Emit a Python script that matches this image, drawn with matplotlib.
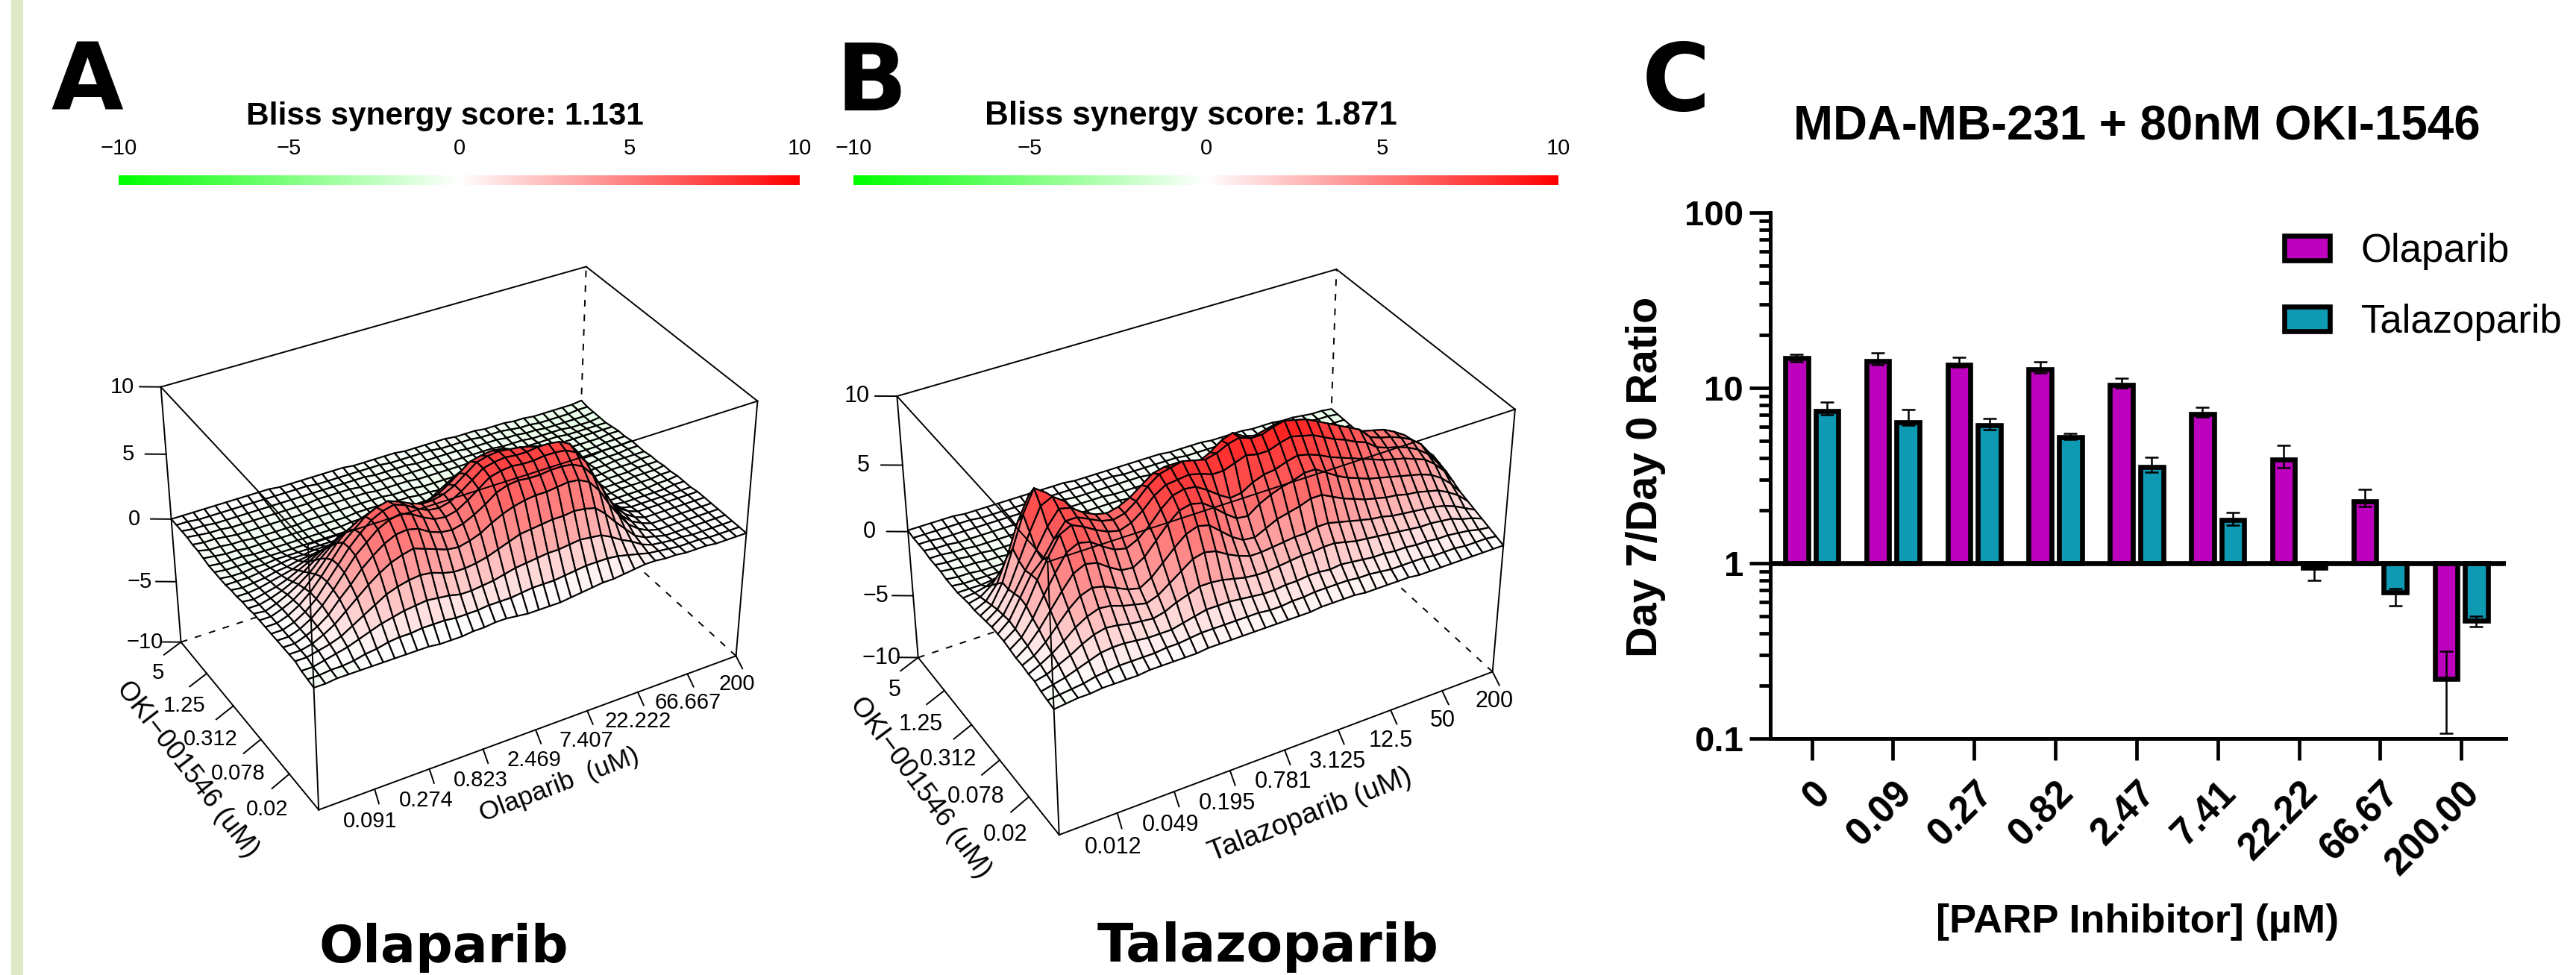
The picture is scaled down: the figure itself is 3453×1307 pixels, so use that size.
#!/usr/bin/env python
import matplotlib
matplotlib.use('Agg')
import matplotlib.pyplot as plt
from matplotlib.colors import LinearSegmentedColormap
from matplotlib.patches import Patch, Rectangle
from matplotlib.ticker import LogLocator, NullFormatter
from mpl_toolkits.mplot3d import Axes3D
import numpy as np

plt.rcParams['font.family'] = ['Liberation Sans', 'DejaVu Sans']

W, H = 3453, 1307

# panel A / B tick labels
oki_ticks = ['0.02', '0.078', '0.312', '1.25', '5']
ola_ticks = ['0.091', '0.274', '0.823', '2.469', '7.407', '22.222', '66.667', '200']
tal_ticks = ['0.012', '0.049', '0.195', '0.781', '3.125', '12.5', '50', '200']
z_ticks = [-10, -5, 0, 5, 10]

# synergy surface, tenths of a point
# rows go back along OKI-001546, columns along the PARP inhibitor
bliss_a_tenths = [
    [-4,-4,-3,-3,-3,-3,-3,-3,-3,-3,-3,-4,-4,-4,-3,-3,-2,-2,-3,-4,-4,-4,-4,-3,-2,-1,0,0,1,2,3,3,2,2,1,1,1,0,0,0,0],
    [-3,-3,-2,-2,-1,1,2,4,5,5,6,6,6,5,5,5,6,6,6,7,8,8,8,9,10,11,11,11,10,8,6,4,3,2,1,1,1,0,0,0,0],
    [-2,-2,0,2,4,7,10,13,15,17,18,19,18,17,15,15,16,17,19,21,22,23,24,24,25,26,25,24,20,15,11,6,3,2,1,1,0,0,0,0,0],
    [0,0,2,4,7,12,17,22,27,30,32,33,32,29,27,27,28,30,33,36,39,40,41,42,42,43,42,40,33,24,16,8,4,2,0,0,0,0,0,0,0],
    [0,0,2,6,11,18,25,32,38,43,46,48,45,42,39,38,40,43,48,52,55,57,58,58,59,60,59,55,46,33,22,12,6,2,0,0,0,0,0,0,0],
    [0,0,3,7,13,22,30,39,46,52,56,57,55,50,47,46,48,52,57,63,66,67,66,66,67,67,66,62,53,40,26,14,7,3,0,0,0,0,0,0,0],
    [0,0,3,8,15,24,34,44,51,58,62,64,61,56,52,51,53,58,64,70,72,73,72,72,73,73,72,68,58,43,29,16,8,3,0,0,0,0,0,0,0],
    [0,0,3,8,15,25,35,45,53,60,64,66,63,58,54,53,55,60,66,72,74,75,74,74,75,75,74,70,60,44,30,16,8,3,0,0,0,0,0,0,0],
    [0,0,3,8,15,24,34,44,51,58,62,64,61,57,54,54,56,60,66,72,74,75,74,73,71,69,65,58,46,33,20,10,4,1,-1,-1,-1,-1,-1,-1,-1],
    [0,0,3,7,13,21,30,39,46,51,54,55,52,49,47,48,51,56,62,68,70,71,70,67,62,56,50,42,32,21,10,4,1,-1,-2,-2,-2,-2,-2,-1,-1],
    [0,-1,2,6,11,17,25,32,38,42,44,44,42,40,39,41,44,49,54,58,61,62,60,56,50,44,36,28,18,9,3,0,-2,-3,-3,-3,-3,-3,-2,-2,-1],
    [-1,-1,1,4,8,13,19,25,30,33,34,33,31,30,30,32,35,39,43,46,47,46,43,38,32,26,20,13,7,2,-1,-3,-4,-4,-4,-3,-3,-3,-3,-2,-2],
    [-1,-2,0,2,5,9,13,18,21,23,23,22,21,20,21,23,26,29,32,33,33,31,28,23,18,13,8,3,0,-3,-4,-5,-5,-5,-4,-4,-4,-3,-3,-3,-2],
    [-2,-2,-1,1,3,5,8,11,13,14,14,13,12,12,13,15,17,19,21,21,20,18,15,11,7,3,0,-3,-5,-6,-6,-6,-6,-5,-5,-4,-4,-4,-3,-3,-3],
    [-2,-3,-2,-1,1,2,4,5,6,7,6,6,5,5,6,8,9,11,11,11,10,8,5,2,-1,-3,-5,-6,-7,-7,-7,-7,-6,-6,-5,-5,-4,-4,-4,-3,-3],
    [-3,-3,-3,-2,-1,0,1,1,2,2,2,1,1,1,2,3,4,4,4,3,2,0,-2,-4,-6,-7,-8,-8,-8,-8,-7,-7,-7,-6,-6,-5,-5,-4,-4,-4,-4],
    [-3,-4,-4,-3,-3,-2,-2,-2,-2,-2,-2,-3,-3,-3,-2,-2,-1,-1,-2,-3,-4,-5,-7,-8,-9,-9,-9,-9,-9,-8,-8,-7,-7,-7,-6,-6,-5,-5,-5,-4,-4],
    [-3,-4,-4,-4,-4,-4,-4,-4,-4,-4,-4,-4,-4,-4,-4,-4,-3,-4,-4,-5,-6,-7,-8,-8,-9,-9,-9,-9,-9,-8,-8,-8,-7,-7,-7,-6,-6,-5,-5,-5,-4],
    [-3,-4,-4,-4,-5,-5,-5,-5,-5,-5,-5,-5,-5,-4,-4,-4,-4,-5,-5,-6,-6,-7,-7,-8,-8,-8,-8,-8,-8,-8,-8,-7,-7,-7,-7,-6,-6,-6,-5,-5,-5],
    [-2,-3,-4,-4,-5,-5,-5,-5,-5,-5,-5,-5,-5,-5,-4,-4,-4,-5,-5,-5,-6,-6,-7,-7,-7,-7,-7,-7,-7,-7,-7,-7,-7,-7,-6,-6,-6,-6,-6,-5,-5],
    [-1,-3,-3,-4,-4,-5,-5,-5,-5,-5,-4,-4,-4,-4,-4,-4,-4,-4,-5,-5,-5,-6,-6,-6,-6,-6,-6,-6,-6,-6,-6,-6,-6,-6,-6,-6,-6,-6,-6,-6,-6],
    [-1,-2,-2,-3,-4,-4,-4,-4,-4,-4,-4,-3,-3,-3,-3,-3,-3,-4,-4,-4,-4,-5,-5,-5,-5,-5,-5,-5,-6,-6,-6,-6,-6,-6,-6,-6,-7,-7,-7,-7,-7],
    [0,-1,-2,-2,-3,-3,-3,-3,-3,-3,-3,-3,-2,-2,-2,-2,-3,-3,-3,-3,-4,-4,-4,-4,-5,-5,-5,-5,-5,-5,-6,-6,-6,-7,-7,-7,-7,-8,-8,-8,-7],
    [0,-1,-1,-2,-2,-2,-2,-2,-2,-2,-2,-2,-2,-2,-2,-2,-2,-2,-3,-3,-3,-3,-4,-4,-4,-4,-4,-5,-5,-5,-5,-6,-6,-7,-7,-8,-8,-8,-8,-8,-7],
    [0,0,-1,-1,-1,-1,-1,-1,-1,-1,-1,-1,-1,-2,-2,-2,-2,-2,-2,-2,-3,-3,-3,-3,-3,-4,-4,-4,-4,-5,-5,-5,-6,-7,-7,-8,-8,-8,-8,-7,-7],
    [0,0,0,0,0,0,0,0,0,0,-1,-1,-1,-1,-1,-1,-1,-2,-2,-2,-2,-2,-3,-3,-3,-3,-3,-4,-4,-4,-5,-5,-5,-6,-6,-7,-7,-7,-7,-7,-6],
]
bliss_b_tenths = [
    [-4,-3,-2,-2,-1,-1,-1,-1,0,0,0,0,0,1,1,1,1,1,1,1,1,1,1,2,2,2,2,1,1,1,1,1,0,0,0,0,0,0,0,0,0],
    [-3,-2,-1,0,2,3,4,4,4,4,5,5,6,7,7,7,7,7,7,6,6,7,7,8,8,8,8,7,7,6,5,5,5,5,4,4,4,3,3,3,2],
    [-2,0,2,5,8,11,12,12,11,10,10,10,12,14,16,16,16,15,14,13,13,14,14,15,15,14,15,14,13,12,12,11,11,10,10,9,9,8,7,5,4],
    [0,2,6,10,15,19,21,20,18,17,16,18,22,25,28,28,27,25,23,22,22,23,24,25,25,26,26,24,22,21,20,19,18,17,16,16,15,14,11,9,6],
    [0,4,9,15,22,27,30,29,26,24,22,25,31,37,43,45,43,38,34,31,31,32,33,34,34,36,36,34,32,30,28,27,25,24,23,22,21,19,16,12,8],
    [1,5,12,21,30,37,40,38,34,30,28,33,41,49,56,59,57,50,43,38,37,41,45,47,49,52,52,48,44,41,38,36,34,33,31,30,28,26,22,17,10],
    [1,7,16,27,38,48,52,50,44,39,38,43,52,61,68,70,68,62,55,49,48,54,58,61,63,66,66,61,56,52,49,46,44,42,40,38,36,33,28,21,12],
    [2,8,19,33,46,58,62,60,54,49,47,51,58,67,74,76,75,70,64,59,60,65,68,69,72,74,72,69,65,62,59,56,53,50,48,46,43,40,34,26,15],
    [3,9,23,39,53,66,70,66,61,57,55,58,64,72,77,78,79,77,74,74,77,80,78,78,81,83,81,79,75,71,68,64,61,55,52,50,47,43,37,28,18],
    [3,10,24,38,46,58,68,68,64,60,58,60,66,74,80,82,84,82,80,82,86,88,85,85,88,90,88,86,82,78,74,70,66,58,55,53,50,46,40,30,20],
    [3,9,22,36,48,62,72,70,64,60,58,60,64,70,76,78,78,76,74,78,84,87,82,80,82,84,82,78,75,72,68,64,60,58,56,54,50,45,38,29,22],
    [2,8,20,38,56,72,76,70,60,52,48,50,54,60,64,66,66,64,62,66,70,72,68,66,68,68,64,60,58,56,52,50,48,50,50,48,44,38,30,22,14],
    [1,6,20,42,64,80,74,62,48,38,34,35,38,42,46,48,48,46,44,46,50,52,48,46,46,44,40,36,36,34,32,32,34,36,36,34,30,24,18,12,8],
    [0,4,14,32,54,70,60,44,30,22,18,18,20,22,24,26,26,24,22,24,26,28,26,22,20,18,16,14,14,14,14,14,16,18,18,16,12,8,6,4,2],
    [0,2,8,18,32,44,34,22,12,6,4,4,4,6,6,8,8,6,6,6,8,8,6,4,2,2,0,0,0,2,2,2,4,4,4,2,0,-2,-2,-2,-2],
    [-1,0,2,6,12,16,10,4,0,-2,-3,-3,-3,-3,-3,-3,-3,-3,-3,-3,-3,-3,-3,-4,-5,-5,-6,-6,-6,-6,-5,-5,-5,-5,-5,-5,-5,-6,-6,-6,-5],
    [-2,-2,-2,-1,0,1,0,-2,-3,-4,-4,-4,-4,-4,-4,-4,-4,-4,-4,-4,-5,-5,-5,-5,-6,-6,-7,-7,-7,-7,-7,-7,-7,-7,-7,-7,-7,-7,-7,-7,-6],
    [-2,-3,-3,-3,-3,-3,-4,-4,-5,-5,-5,-5,-5,-5,-5,-5,-5,-5,-5,-5,-5,-6,-6,-6,-6,-7,-7,-7,-8,-8,-8,-8,-8,-8,-8,-8,-8,-7,-7,-7,-6],
    [-2,-3,-3,-4,-4,-4,-5,-5,-5,-5,-5,-5,-5,-5,-5,-5,-5,-5,-5,-5,-6,-6,-6,-6,-7,-7,-7,-8,-8,-8,-8,-8,-8,-8,-8,-8,-8,-8,-7,-7,-7],
    [-1,-2,-3,-3,-4,-4,-5,-5,-5,-5,-5,-5,-4,-4,-4,-4,-5,-5,-5,-5,-6,-6,-6,-7,-7,-7,-7,-7,-8,-8,-8,-8,-8,-8,-8,-8,-8,-8,-8,-8,-7],
    [-1,-2,-2,-3,-3,-4,-4,-4,-4,-4,-4,-4,-4,-3,-3,-3,-4,-4,-4,-5,-5,-5,-6,-6,-6,-7,-7,-7,-7,-7,-7,-7,-7,-7,-7,-8,-8,-8,-8,-8,-8],
    [-1,-1,-2,-2,-3,-3,-3,-3,-3,-3,-3,-3,-3,-3,-3,-3,-3,-3,-4,-4,-4,-5,-5,-5,-5,-6,-6,-6,-6,-6,-6,-7,-7,-7,-7,-7,-7,-8,-8,-8,-8],
    [0,-1,-1,-2,-2,-2,-2,-2,-2,-2,-2,-2,-2,-2,-2,-2,-2,-3,-3,-3,-3,-4,-4,-4,-4,-5,-5,-5,-5,-5,-5,-6,-6,-6,-6,-6,-7,-7,-8,-8,-8],
    [0,0,-1,-1,-1,-1,-1,-1,-1,-1,-1,-1,-1,-1,-2,-2,-2,-2,-2,-2,-2,-3,-3,-3,-3,-4,-4,-4,-4,-4,-5,-5,-5,-5,-5,-6,-6,-7,-8,-8,-8],
    [0,0,0,0,0,0,-1,-1,-1,-1,-1,-1,-1,-1,-1,-1,-1,-1,-1,-2,-2,-2,-2,-2,-2,-3,-3,-3,-3,-4,-4,-4,-4,-4,-5,-5,-6,-6,-7,-7,-8],
    [1,1,1,1,1,0,0,0,0,0,0,0,0,0,0,-1,-1,-1,-1,-1,-1,-1,-1,-1,-2,-2,-2,-2,-3,-3,-3,-3,-4,-4,-4,-5,-5,-6,-7,-7,-8],
]

# panel C
doses = ['0', '0.09', '0.27', '0.82', '2.47', '7.41', '22.22', '66.67', '200.00']
ola_mean = [14.8, 14.2, 13.6, 12.8, 10.4, 7.1, 3.9, 2.25, 0.22]
ola_low = [14.1, 13.5, 13.1, 12.2, 10.0, 6.8, 3.5, 2.1, 0.107]
ola_high = [15.5, 15.9, 15.0, 14.1, 11.4, 7.76, 4.72, 2.64, 0.316]
tal_mean = [7.4, 6.4, 6.1, 5.25, 3.55, 1.76, 0.94, 0.68, 0.47]
tal_low = [7.0, 6.1, 5.8, 5.1, 3.3, 1.65, 0.80, 0.57, 0.435]
tal_high = [8.3, 7.5, 6.7, 5.5, 4.04, 1.94, 0.97, 0.72, 0.50]

# where the corners of each persp box land on the image (pixels)
box_points = [(0, 0, 10), (8, 0, 10), (0, 5, 10), (8, 5, 10),
              (0, 0, -10), (8, 0, -10), (0, 5, -10), (8, 5, -10)]
box_px_a = [(414.4, 733.3), (1015.8, 537.5), (216.4, 518.3), (783.3, 355.3),
            (425.4, 1087.5), (986.4, 875.0), (242.0, 856.7), (776.0, 691.7)]
box_px_b = [(1404.7, 754.2), (2030.8, 548.3), (1202.5, 530.8), (1791.1, 360.8),
            (1419.4, 1119.2), (2000.7, 900.0), (1230.6, 880.8), (1779.7, 698.3)]

bliss_cmap = LinearSegmentedColormap.from_list('bliss', ['#00ff00', '#ffffff', '#ff0000'])


def fit_camera(points, pixels):
    # R persp camera as a 3x4 matrix, least squares on the box corners
    rows = []
    for (x, y, z), (u, v) in zip(points, pixels):
        v = H - v
        rows.append([x, y, z, 1, 0, 0, 0, 0, -u * x, -u * y, -u * z, -u])
        rows.append([0, 0, 0, 0, x, y, z, 1, -v * x, -v * y, -v * z, -v])
    P = np.linalg.svd(np.array(rows))[2][-1].reshape(3, 4)
    if P[2] @ np.array([4, 2.5, 0, 1]) < 0:
        P = -P
    return P / (P[2] @ np.array([4, 2.5, 0, 1]))


def surface_panel(left, box_px, bliss_tenths, x_ticks, x_label, x_label_pos, y_label_pos,
                  tick_size, x_size, y_size):
    ax = fig.add_axes([left / W, 0, H / W, 1], projection='3d', computed_zorder=False)
    ax.set_axis_off()
    ax.patch.set_visible(False)
    ax.set_proj_type('ortho')
    P = fit_camera(box_points, box_px)

    def get_proj():
        T = ax.transData.inverted().get_affine().get_matrix()
        top = T @ P
        return np.array([top[0], top[1], [0, 0, 0, -1], top[2]])
    ax.get_proj = get_proj

    Z = np.array(bliss_tenths) / 10
    X, Y = np.meshgrid(np.linspace(0, 8, Z.shape[1]), np.linspace(0, 5, Z.shape[0]))
    cells = (Z[:-1, :-1] + Z[1:, :-1] + Z[:-1, 1:] + Z[1:, 1:]) / 4
    colors = np.ones(Z.shape + (4,))
    colors[:-1, :-1] = bliss_cmap((cells + 10) / 20)
    ax.plot_surface(X, Y, Z, rstride=1, cstride=1, facecolors=colors, shade=False,
                    edgecolor='black', linewidth=1.55, zorder=2)

    # box
    lw = 1.4
    for xs, ys, zs in [((8, 8), (5, 5), (-10, 10)), ((0, 8), (5, 5), (-10, -10)),
                       ((8, 8), (0, 5), (-10, -10))]:
        ax.plot(xs, ys, zs, color='black', lw=lw, ls=(0, (4.6, 5.5)), zorder=1)
    for xs, ys, zs in [((0, 8), (5, 5), (10, 10)), ((8, 8), (0, 5), (10, 10)),
                       ((0, 0), (5, 5), (-10, 10)), ((0, 8), (0, 0), (-10, -10)),
                       ((0, 0), (0, 5), (-10, -10))]:
        ax.plot(xs, ys, zs, color='black', lw=lw, zorder=1.5)
    for xs, ys, zs in [((0, 8), (0, 0), (10, 10)), ((0, 0), (0, 5), (10, 10)),
                       ((0, 0), (0, 0), (-10, 10)), ((8, 8), (0, 0), (-10, 10))]:
        ax.plot(xs, ys, zs, color='black', lw=lw, zorder=3)

    # ticks
    for i, lab in enumerate(x_ticks):
        xt = i + 1
        ax.plot((xt, xt - 0.11), (0, -0.34), (-10, -10), color='black', lw=lw, zorder=3)
        ax.text(xt - 0.43, -0.64, -10, lab, fontsize=tick_size, ha='center', va='center')
    for i, lab in enumerate(oki_ticks):
        yt = i + 1
        ax.plot((0, -0.4), (yt, yt - 0.18), (-10, -10), color='black', lw=lw, zorder=3)
        ax.text(-0.70, yt - 0.59, -10, lab, fontsize=tick_size, ha='center', va='center')
    for zt in z_ticks:
        ax.plot((0, -0.29), (5, 5.17), (zt, zt), color='black', lw=lw, zorder=3)
        ax.text(-0.53, 5.30, zt, str(zt).replace('-', '\u2212'), fontsize=tick_size, ha='center', va='center')

    # zdir sets the reading direction of 3d text
    ax.text(x_label_pos[0], x_label_pos[1], -10, x_label, zdir='x', fontsize=x_size,
            ha='center', va='center', rotation_mode='anchor')
    ax.text(y_label_pos[0], y_label_pos[1], -10, 'OKI\u2212001546 (uM)', zdir=(0, -1, 0), fontsize=y_size,
            ha='center', va='center', rotation_mode='anchor')


def colorbar(x0, x1, score, cx, size):
    ax = fig.add_axes([x0 / W, 1 - 248 / H, (x1 - x0) / W, 13 / H])
    ax.imshow(np.linspace(-10, 10, 400)[None, :], cmap=bliss_cmap, vmin=-10, vmax=10,
              extent=[-10, 10, 0, 1], aspect='auto')
    ax.set_yticks([])
    ax.set_xticks(z_ticks, [str(t).replace('-', '\u2212') for t in z_ticks], fontsize=21)
    ax.xaxis.tick_top()
    ax.tick_params(axis='x', length=0, pad=16)
    for s in ax.spines.values():
        s.set_visible(False)
    fig.text(cx / W, 1 - 156 / H, 'Bliss synergy score: ' + score, fontsize=size,
             fontweight='bold', ha='center', va='center')


fig = plt.figure(figsize=(W / 100, H / 100), dpi=100, facecolor='white')
fig.add_artist(Rectangle((15 / W, 0), 16 / W, 1, transform=fig.transFigure, color='#dee8c4', lw=0))

surface_panel(0, box_px_a, bliss_a_tenths, ola_ticks, 'Olaparib  (uM)', (3.6, -1.36), (-1.36, 1.9), 21, 25.5, 26)
surface_panel(1000, box_px_b, bliss_b_tenths, tal_ticks, 'Talazoparib (uM)', (3.52, -1.5), (-1.36, 2.02), 22, 28, 26.5)
colorbar(159, 1072, '1.131', 596, 30.5)
colorbar(1144, 2089, '1.871', 1596, 31.7)

for lab, cx in [('A', 117), ('B', 1168), ('C', 2247)]:
    fig.text(cx / W, 1 - 113 / H, lab, fontsize=90, fontweight='bold', family='DejaVu Sans',
             ha='center', va='center')
fig.text(595 / W, 1 - 1270 / H, 'Olaparib', fontsize=50, fontweight='bold',
         family='DejaVu Sans', ha='center', va='center')
fig.text(1700 / W, 1 - 1270 / H, 'Talazoparib', fontsize=51, fontweight='bold',
         family='DejaVu Sans', ha='center', va='center')

# panel C
ax = fig.add_axes([2373 / W, 1 - 990 / H, (3359 - 2373) / W, (990 - 285) / H])
pos = np.arange(len(doses))
off = 0.187
for shift, mean, low, high, col in [(-off, ola_mean, ola_low, ola_high, '#bd00bd'),
                                    (off, tal_mean, tal_low, tal_high, '#0f9ab4')]:
    mean = np.array(mean)
    ax.bar(pos + shift, mean - 1, 0.281, bottom=1, color=col, edgecolor='black', linewidth=4.8, zorder=2)
    ax.errorbar(pos + shift, mean, yerr=[mean - np.array(low), np.array(high) - mean], fmt='none',
                ecolor='black', elinewidth=1.8, capsize=6.5, capthick=1.8, zorder=3)
ax.axhline(1, color='black', lw=4.8, zorder=4)
ax.set_yscale('log')
ax.set_ylim(0.1, 100)
ax.set_xlim(-0.511, 8.55)
ax.set_yticks([0.1, 1, 10, 100], ['0.1', '1', '10', '100'], fontsize=34, fontweight='bold')
ax.yaxis.set_minor_locator(LogLocator(base=10, subs=np.arange(2, 10)))
ax.yaxis.set_minor_formatter(NullFormatter())
ax.set_xticks(pos, doses, fontsize=36.5, fontweight='bold', rotation=45, ha='right', rotation_mode='anchor')
ax.tick_params(axis='y', which='major', length=20, width=3.4, pad=6)
ax.tick_params(axis='y', which='minor', length=11, width=3.4)
ax.tick_params(axis='x', length=21, width=3.4, pad=14)
ax.spines['top'].set_visible(False)
ax.spines['right'].set_visible(False)
ax.spines['left'].set_linewidth(3.6)
ax.spines['bottom'].set_linewidth(3.6)
ax.patch.set_visible(False)

fig.text(2206 / W, 1 - 639 / H, 'Day 7/Day 0 Ratio', fontsize=41.5, fontweight='bold',
         rotation=90, ha='center', va='center')
fig.text(2865 / W, 1 - 1236 / H, '[PARP Inhibitor] (\u00b5M)', fontsize=39, fontweight='bold',
         ha='center', va='center')
fig.text(2864 / W, 1 - 171 / H, 'MDA-MB-231 + 80nM OKI-1546', fontsize=45.8, fontweight='bold',
         ha='center', va='center')

handles = [Patch(facecolor='#bd00bd', edgecolor='black', linewidth=4.8),
           Patch(facecolor='#0f9ab4', edgecolor='black', linewidth=4.8)]
fig.legend(handles, ['Olaparib', 'Talazoparib'], loc='upper left',
           bbox_to_anchor=(3062 / W, 1 - 312 / H), frameon=False, fontsize=38, borderpad=0,
           borderaxespad=0, handlelength=1.15, handleheight=0.6, handletextpad=0.8, labelspacing=0.85)

fig.savefig('out.png', dpi=100)
